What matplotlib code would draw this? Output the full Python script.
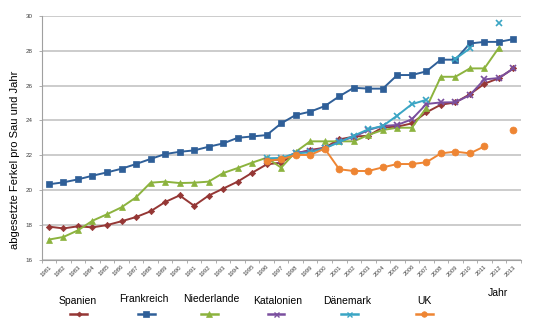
import numpy as np
import matplotlib
matplotlib.use("Agg")
import matplotlib.pyplot as plt
from matplotlib.lines import Line2D

plt.rcParams['font.family'] = ['Liberation Sans', 'DejaVu Sans']

nan = np.nan
years = [str(y) for y in range(1981, 2014)]

spanien = [17.91, 17.81, 17.93, 17.87, 18.00, 18.22, 18.46, 18.79, 19.32, 19.70, 19.11,
           19.69, 20.09, 20.49, 21.00, 21.48, 21.58, 22.10, 22.30, 22.44, 22.91, 23.07,
           23.12, 23.60, 23.64, 23.83, 24.46, 24.90, 25.03, 25.50, 26.10, 26.42, 26.98]
frankreich = [20.34, 20.45, 20.62, 20.83, 21.02, 21.23, 21.50, 21.79, 22.07, 22.20, 22.28,
              22.49, 22.68, 23.00, 23.08, 23.16, 23.83, 24.31, 24.50, 24.82, 25.38, 25.87,
              25.82, 25.82, 26.60, 26.60, 26.81, 27.48, 27.48, 28.41, 28.50, 28.50, 28.66]
niederlande = [17.17, 17.32, 17.70, 18.25, 18.62, 19.02, 19.59, 20.43, 20.49, 20.41, 20.43,
               20.49, 20.98, 21.27, 21.58, 21.86, 21.29, 22.20, 22.80, 22.80, 22.80, 22.80,
               23.16, 23.45, 23.58, 23.58, 24.72, 26.50, 26.50, 26.98, 26.98, 28.17, nan]
katalonien = [nan] * 15 + [21.70, 21.75, 22.15, 22.25, 22.40, 22.80, 23.05, 23.45, 23.68,
                           23.74, 24.06, 24.94, 25.03, 25.04, 25.45, 26.35, 26.43, 26.98]
daenemark = [nan] * 15 + [21.83, 21.85, 22.11, 22.17, 22.40, 22.75, 23.12, 23.49, 23.68,
                          24.28, 24.93, 25.18, nan, 27.52, 28.13, nan, 29.56, nan]
uk = [nan] * 15 + [21.69, 21.77, 22.02, 22.02, 22.38, 21.20, 21.10, 21.10, 21.31, 21.50,
                   21.50, 21.60, 22.11, 22.21, 22.11, 22.51, nan, 23.47]

series_names = ["Spanien", "Frankreich", "Niederlande", "Katalonien", "Dänemark", "UK"]
series_values = [spanien, frankreich, niederlande, katalonien, daenemark, uk]
colors = ["#953735", "#2f5f98", "#8cb33e", "#7a4f9e", "#3aa5c4", "#ee8533"]
markers = ["D", "s", "^", "x", "x", "o"]
msizes = [3.2, 5.0, 5.0, 4.5, 4.5, 5.0]

fig = plt.figure(figsize=(5.5, 3.26), dpi=100)
ax = fig.add_axes([0.0758, 0.2025, 0.8709, 0.7493])

x = np.arange(len(years))
for name, vals, c, m, ms in zip(series_names, series_values, colors, markers, msizes):
    ax.plot(x, vals, color=c, lw=1.4, marker=m, markersize=ms,
            markeredgewidth=1.2 if m == "x" else 0.5, markeredgecolor=c,
            markerfacecolor=c, zorder=3)

ax.set_xlim(-0.5, len(years) - 0.5)
ax.set_ylim(16, 30)
ax.set_yticks(np.arange(16, 31, 2))
ax.yaxis.grid(True, color="#bfbfbf", lw=1.1)
ax.set_axisbelow(True)
for s in ["top", "right"]:
    ax.spines[s].set_visible(False)
for s in ["left", "bottom"]:
    ax.spines[s].set_color("#a0a0a0")
    ax.spines[s].set_linewidth(0.8)

ax.set_xticks(x)
ax.set_xticklabels(years, rotation=45, ha="right", va="top", rotation_mode="anchor",
                   fontsize=4.3, color="#404040")
ax.set_xticks(np.arange(-0.5, len(years), 1.0), minor=True)
ax.tick_params(axis="x", which="major", length=0, pad=3)
ax.tick_params(axis="x", which="minor", length=2.5, color="#a0a0a0", width=0.6)
ax.tick_params(axis="y", length=2.5, color="#a0a0a0", width=0.6, labelsize=4.5,
               labelcolor="#404040", pad=4)

fig.text(15 / 550, 1 - 160 / 326, "abgesetzte Ferkel pro Sau und Jahr", rotation=90,
         ha="center", va="center", fontsize=8)
fig.text(498 / 550, 1 - 293 / 326, "Jahr", ha="center", va="center", fontsize=7.5)

label_pos = [(77.5, 301.5), (144, 299.5), (211, 299.5), (278, 300.5), (347, 300.5), (424, 301.5)]
handle_pos = [78.5, 146, 209, 276, 349, 424]
for name, c, m, ms, (tx, ty), hx in zip(series_names, colors, markers, msizes, label_pos, handle_pos):
    fig.text(tx / 550, 1 - ty / 326, name, ha="center", va="center", fontsize=7.5)
    yy = 1 - 314 / 326
    fig.add_artist(Line2D([(hx - 8.5) / 550, (hx + 8.5) / 550], [yy, yy], color=c, lw=1.8,
                          transform=fig.transFigure))
    fig.add_artist(Line2D([hx / 550], [yy], color=c, marker=m, markersize=ms * 0.8,
                          markeredgewidth=1.0 if m == "x" else 0.5, markeredgecolor=c,
                          markerfacecolor=c, transform=fig.transFigure))

fig.savefig("out.png", dpi=100)
